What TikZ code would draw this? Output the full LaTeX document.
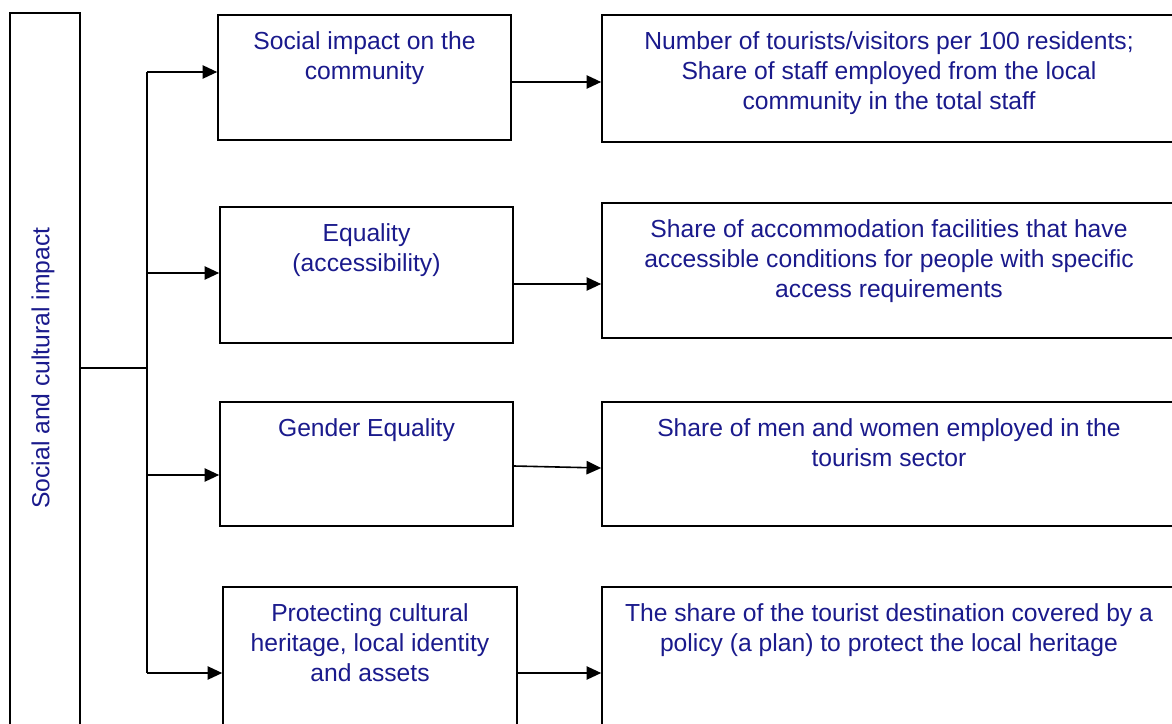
\documentclass[tikz,border=0pt]{standalone}
\usepackage{fontspec}
\setmainfont{Liberation Sans}
\usetikzlibrary{positioning,arrows.meta}
\definecolor{txtblue}{RGB}{26,26,140}

\begin{document}
\begin{tikzpicture}[
    x=0.75pt, y=-0.75pt,
    box/.style={
        rectangle,
        draw,
        line width=1.2pt,
        inner sep=0pt
    },
    txt/.style={
        text=txtblue,
        align=center,
        inner sep=0pt,
        font=\fontsize{18.5pt}{22.5pt}\selectfont
    },
    arrow/.style={
        -{Triangle[length=11pt,width=10pt]},
        line width=1.2pt
    },
    link/.style={
        line width=1.2pt
    }
]
\useasboundingbox (0,0) rectangle (1172,724);
\clip (0,0) rectangle (1172,724);

% left column
\node[box, minimum width=52.5pt, minimum height=541.5pt] (side) at (45,374) {};
\node[txt, rotate=90] (sidetxt) at (43,368) {Social and cultural impact};

% middle column
\node[box, minimum width=219.75pt, minimum height=93.75pt] (soc) at (364.5,77.5) {};
\node[txt, below=13pt of soc.north] (soctxt) {Social impact on the\\community};

\node[box, minimum width=219.75pt, minimum height=102pt] (equ) at (366.5,275) {};
\node[txt, below=13pt of equ.north] (equtxt) {Equality\\(accessibility)};

\node[box, minimum width=219.75pt, minimum height=93pt] (gen) at (366.5,464) {};
\node[txt, below=13pt of gen.north] (gentxt) {Gender Equality};

\node[box, minimum width=220.5pt, minimum height=114.75pt] (her) at (370,663.5) {};
\node[txt, below=13pt of her.north] (hertxt) {Protecting cultural\\heritage, local identity\\and assets};

% right column
\node[box, minimum width=430.5pt, minimum height=95.25pt] (socind) at (889,78.5) {};
\node[txt, below=13pt of socind.north] (socindtxt) {Number of tourists/visitors per 100 residents;\\Share of staff employed from the local\\community in the total staff};

\node[box, minimum width=430.5pt, minimum height=101.25pt] (equind) at (889,270.5) {};
\node[txt, below=13pt of equind.north] (equindtxt) {Share of accommodation facilities that have\\accessible conditions for people with specific\\access requirements};

\node[box, minimum width=430.5pt, minimum height=93pt] (genind) at (889,464) {};
\node[txt, below=13pt of genind.north] (genindtxt) {Share of men and women employed in the\\tourism sector};

\node[box, minimum width=430.5pt, minimum height=114.75pt] (herind) at (889,663.5) {};
\node[txt, below=13pt of herind.north] (herindtxt) {The share of the tourist destination covered by a\\policy (a plan) to protect the local heritage};

% branch
\coordinate (join) at (147,368);
\coordinate (t1) at (147,72);
\coordinate (t2) at (147,273);
\coordinate (t3) at (147,475);
\coordinate (t4) at (147,673);

\draw[link] (side.east |- join) -- (join);
\draw[link] (t1) -- (t4);
\draw[arrow] (t1) -- (t1 -| soc.west);
\draw[arrow] (t2) -- (t2 -| equ.west);
\draw[arrow] (t3) -- (t3 -| gen.west);
\draw[arrow] (t4) -- (t4 -| her.west);

% middle to right
\coordinate (y1) at (0,82);
\coordinate (y2) at (0,284);
\coordinate (y3a) at (0,466);
\coordinate (y3b) at (0,468);
\coordinate (y4) at (0,673);

\draw[arrow] (soc.east |- y1) -- (socind.west |- y1);
\draw[arrow] (equ.east |- y2) -- (equind.west |- y2);
\draw[arrow] (gen.east |- y3a) -- (genind.west |- y3b);
\draw[arrow] (her.east |- y4) -- (herind.west |- y4);

\end{tikzpicture}
\end{document}
